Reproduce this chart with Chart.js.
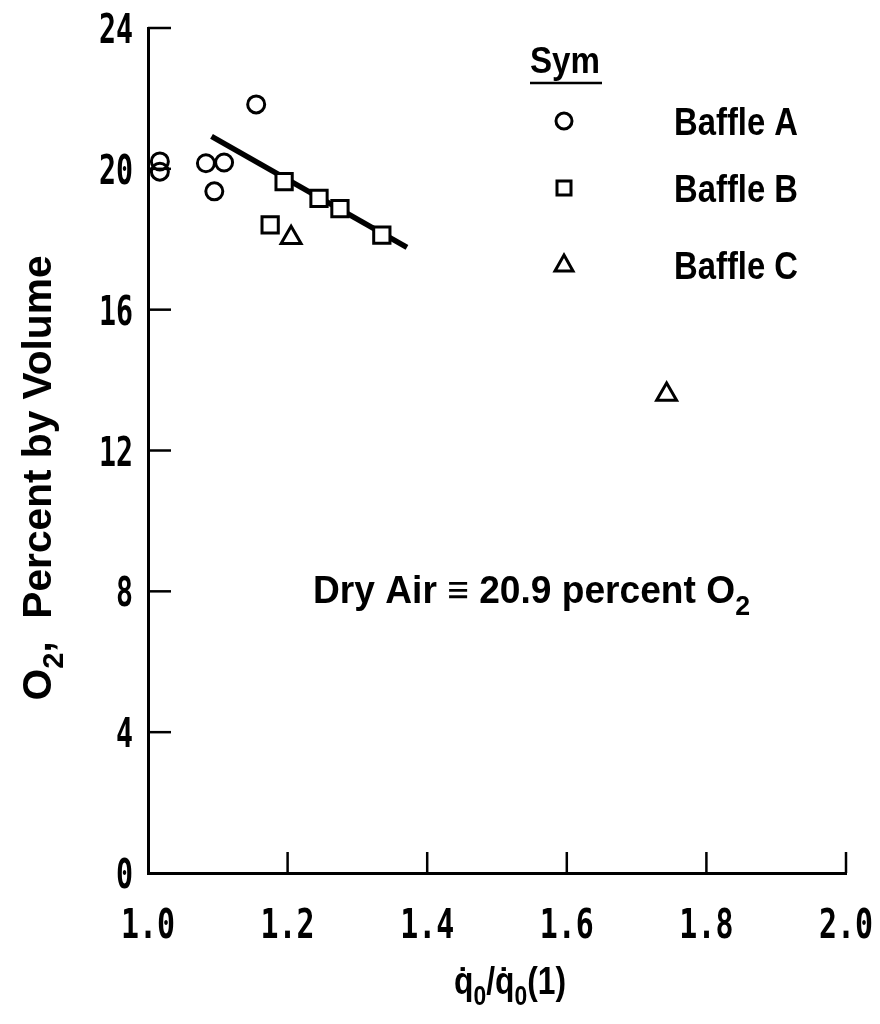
<!DOCTYPE html>
<html>
<head>
<meta charset="utf-8">
<script src="https://cdn.jsdelivr.net/npm/chart.js"></script>
<style>
  body { margin: 0; background: #fff; }
  #wrap { width: 880px; height: 1024px; }
</style>
</head>
<body>
<div id="wrap"><canvas id="o2Chart" width="880" height="1024"></canvas></div>
<script>
// Data
const xTickValues = [1.0, 1.2, 1.4, 1.6, 1.8, 2.0];
const yTickValues = [0, 4, 8, 12, 16, 20, 24];

const baffleAX = [1.017, 1.017, 1.083, 1.109, 1.095, 1.155];
const baffleAY = [20.21, 19.92, 20.16, 20.18, 19.36, 21.83];
const baffleBX = [1.175, 1.195, 1.245, 1.275, 1.335];
const baffleBY = [18.41, 19.64, 19.16, 18.87, 18.12];
const baffleCX = [1.205, 1.743];
const baffleCY = [18.04, 13.59];
const fitX = [1.091, 1.371];
const fitY = [20.92, 17.77];

const legendLabels = ["Baffle A", "Baffle B", "Baffle C"];
const legendStyles = ["circle", "rect", "triangle"];

const FONT = "'Liberation Sans', Arial, sans-serif";
const TICK_FONT = "'DejaVu Sans Mono', monospace";

function toPoints(xs, ys) {
  return xs.map((x, i) => ({ x: x, y: ys[i] }));
}

// text pieces (some subscript), squeezed horizontally to a given width
function drawRuns(ctx, x, y, runs, size, width, align) {
  const pieces = runs.map((r) => {
    const s = r.sub ? size * 0.72 : size;
    ctx.font = "bold " + s + "px " + FONT;
    return { t: r.t, sub: r.sub, s: s, w: ctx.measureText(r.t).width };
  });
  const total = pieces.reduce((a, p) => a + p.w, 0);
  const sx = width ? width / total : 1;
  const left = align === "center" ? x - (total * sx) / 2 : x;
  ctx.save();
  ctx.translate(left, y);
  ctx.scale(sx, 1);
  ctx.textAlign = "left";
  ctx.textBaseline = "alphabetic";
  let cx = 0;
  pieces.forEach((p) => {
    ctx.font = "bold " + p.s + "px " + FONT;
    ctx.fillText(p.t, cx, p.sub ? size * 0.3 : 0);
    cx += p.w;
  });
  ctx.restore();
}

function tickText(ctx, text, x, y, sx, align) {
  ctx.save();
  ctx.font = "bold 41px " + TICK_FONT;
  const w = ctx.measureText(text).width * sx;
  const left = align === "right" ? x - w : x - w / 2;
  ctx.translate(left, y);
  ctx.scale(sx, 1);
  ctx.textAlign = "left";
  ctx.textBaseline = "alphabetic";
  ctx.fillText(text, 0, 0);
  ctx.restore();
}

function legendSymbol(ctx, style, x, y) {
  ctx.save();
  ctx.strokeStyle = "#000";
  ctx.lineWidth = 3;
  ctx.beginPath();
  if (style === "circle") {
    ctx.arc(x, y, 8, 0, Math.PI * 2);
  } else if (style === "rect") {
    ctx.rect(x - 7, y - 7, 14, 14);
  } else {
    ctx.moveTo(x, y - 10);
    ctx.lineTo(x + 9, y + 6);
    ctx.lineTo(x - 9, y + 6);
    ctx.closePath();
  }
  ctx.stroke();
  ctx.restore();
}

const decorations = {
  id: "decorations",
  afterDraw(chart) {
    const ctx = chart.ctx;
    const xs = chart.scales.x;
    const ys = chart.scales.y;
    const area = chart.chartArea;
    ctx.save();
    ctx.strokeStyle = "#000";
    ctx.fillStyle = "#000";

    // inward tick marks
    ctx.lineWidth = 2.5;
    xTickValues.slice(1).forEach((v) => {
      const px = xs.getPixelForValue(v);
      ctx.beginPath();
      ctx.moveTo(px, area.bottom);
      ctx.lineTo(px, area.bottom - 21);
      ctx.stroke();
    });
    yTickValues.slice(1).forEach((v) => {
      const py = ys.getPixelForValue(v);
      ctx.beginPath();
      ctx.moveTo(area.left, py);
      ctx.lineTo(area.left + 23, py);
      ctx.stroke();
    });

    // tick labels
    xTickValues.forEach((v) => {
      tickText(ctx, v.toFixed(1), xs.getPixelForValue(v), area.bottom + 65, 0.73, "center");
    });
    yTickValues.forEach((v) => {
      tickText(ctx, String(v), area.left - 15, ys.getPixelForValue(v) + 15, 0.69, "right");
    });

    // legend
    drawRuns(ctx, 530, 73, [{ t: "Sym" }], 36, 70, "left");
    ctx.lineWidth = 2.5;
    ctx.beginPath();
    ctx.moveTo(530, 83);
    ctx.lineTo(602, 83);
    ctx.stroke();
    const rowY = [121, 188, 265];
    legendLabels.forEach((label, i) => {
      legendSymbol(ctx, legendStyles[i], 564, rowY[i]);
      drawRuns(ctx, 674, rowY[i] + 14, [{ t: label }], 38, 124, "left");
    });

    // note
    drawRuns(ctx, 313, 603, [{ t: "Dry Air \u2261 20.9 percent O" }, { t: "2", sub: true }], 39, 437, "left");

    // x title
    drawRuns(ctx, 510, 994, [
      { t: "q\u0307" }, { t: "0", sub: true }, { t: "/q\u0307" }, { t: "0", sub: true }, { t: "(1)" },
    ], 38, 112, "center");

    // y title
    ctx.save();
    ctx.translate(51, 478);
    ctx.rotate(-Math.PI / 2);
    drawRuns(ctx, 0, 0, [{ t: "O" }, { t: "2", sub: true }, { t: ",  Percent by Volume" }], 40, 445, "center");
    ctx.restore();

    ctx.restore();
  },
};

const ctx = document.getElementById("o2Chart").getContext("2d");
const chart = new Chart(ctx, {
  type: "scatter",
  data: {
    datasets: [
      {
        label: legendLabels[0],
        data: toPoints(baffleAX, baffleAY),
        pointStyle: "circle",
        pointRadius: 8.5,
        borderWidth: 3,
        borderColor: "#000",
        backgroundColor: "rgba(0,0,0,0)",
      },
      {
        label: legendLabels[1],
        data: toPoints(baffleBX, baffleBY),
        pointStyle: "rect",
        pointRadius: 11.5,
        borderWidth: 3,
        borderColor: "#000",
        backgroundColor: "#fff",
      },
      {
        label: legendLabels[2],
        data: toPoints(baffleCX, baffleCY),
        pointStyle: "triangle",
        pointRadius: 11.5,
        borderWidth: 3,
        borderColor: "#000",
        backgroundColor: "rgba(0,0,0,0)",
      },
      {
        label: "Fit",
        type: "line",
        data: toPoints(fitX, fitY),
        borderColor: "#000",
        borderWidth: 5.5,
        pointRadius: 0,
        fill: false,
        order: 5,
      },
    ],
  },
  options: {
    responsive: false,
    animation: false,
    layout: { padding: { top: 28, right: 34, left: 0, bottom: 0 } },
    plugins: {
      legend: { display: false },
      tooltip: { enabled: false },
    },
    scales: {
      x: {
        type: "linear",
        min: 1.0,
        max: 2.0,
        afterBuildTicks: (scale) => {
          scale.ticks = xTickValues.map((v) => ({ value: v }));
        },
        afterFit: (scale) => {
          scale.height = 151;
        },
        ticks: { display: false },
        grid: { display: false, drawTicks: false },
        border: { display: true, color: "#000", width: 3 },
      },
      y: {
        min: 0,
        max: 24,
        afterBuildTicks: (scale) => {
          scale.ticks = yTickValues.map((v) => ({ value: v }));
        },
        afterFit: (scale) => {
          scale.width = 148;
        },
        ticks: { display: false },
        grid: { display: false, drawTicks: false },
        border: { display: true, color: "#000", width: 3 },
      },
    },
  },
  plugins: [decorations],
});
</script>
</body>
</html>
